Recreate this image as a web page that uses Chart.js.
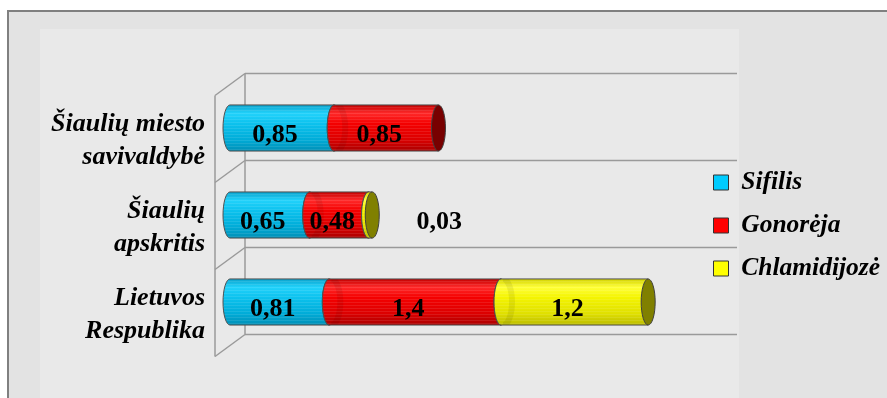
<!DOCTYPE html>
<html>
<head>
<meta charset="utf-8">
<script src="https://cdn.jsdelivr.net/npm/chart.js@4.4.0/dist/chart.umd.min.js"></script>
<style>
  html, body { margin: 0; padding: 0; background: #fff; }
  canvas { display: block; }
</style>
</head>
<body>
<canvas id="lytChart" width="887" height="398"></canvas>
<script>
// sergamumas 10 000 gyventoju
const categories = [['Šiaulių miesto', 'savivaldybė'], ['Šiaulių', 'apskritis'], ['Lietuvos', 'Respublika']];
const seriesNames = ['Sifilis', 'Gonorėja', 'Chlamidijozė'];
const sifilis = [0.85, 0.65, 0.81];
const gonoreja = [0.85, 0.48, 1.4];
const chlamidijoze = [null, 0.03, 1.2];

const serif = '"Liberation Serif", "Times New Roman", serif';

// cylinder colours: gradient stops top -> bottom, end cap, legend swatch
const palette = [
  { stops: ['#0aa2cc', '#22d2fb', '#0cc2ee', '#00acd8', '#008fb6'], cap: '#00708f', flat: '#00c0ee', swatch: '#00ccff' },
  { stops: ['#c20000', '#ff2a2a', '#f40000', '#dc0000', '#aa0000'], cap: '#780000', flat: '#ee0000', swatch: '#ff0000' },
  { stops: ['#d2d200', '#ffff3a', '#f4f400', '#e0e000', '#bcbc00'], cap: '#808000', flat: '#f0f000', swatch: '#ffff00' }
];

const bodyGradient = (ctx, pal, top, bot) => {
  const g = ctx.createLinearGradient(0, top, 0, bot);
  [0, 0.18, 0.4, 0.75, 1].forEach((p, k) => g.addColorStop(p, pal.stops[k]));
  return g;
};

// page frame and the lighter plot panel
const backdrop = {
  id: 'backdrop',
  beforeDraw(chart) {
    const ctx = chart.ctx;
    ctx.save();
    ctx.fillStyle = '#ffffff';
    ctx.fillRect(0, 0, chart.width, chart.height);
    ctx.fillStyle = '#e3e3e3';
    ctx.fillRect(8, 11, chart.width, chart.height);
    ctx.strokeStyle = '#808080';
    ctx.lineWidth = 2;
    ctx.beginPath();
    ctx.moveTo(8, chart.height);
    ctx.lineTo(8, 11);
    ctx.lineTo(chart.width, 11);
    ctx.stroke();
    ctx.fillStyle = '#e9e9e9';
    ctx.fillRect(40, 29, 699, chart.height);
    ctx.restore();
  }
};

// 3D walls: back wall lines at the category borders, side wall diagonals
const walls = {
  id: 'walls',
  beforeDatasetsDraw(chart) {
    const { ctx, chartArea: a, scales: { y } } = chart;
    const step = (a.bottom - a.top) / categories.length;
    const dx = 15, dy = 11;
    const backRight = a.right + 41;
    ctx.save();
    ctx.lineWidth = 1.5;
    ctx.strokeStyle = '#9a9a9a';
    const borders = [];
    for (let i = 0; i < categories.length; i++) borders.push(y.getPixelForValue(i) - step / 2);
    borders.push(y.getPixelForValue(categories.length - 1) + step / 2);
    borders.forEach(b => {
      ctx.beginPath();
      ctx.moveTo(a.left + dx, b - dy);
      ctx.lineTo(backRight, b - dy);
      ctx.stroke();
      ctx.beginPath();
      ctx.moveTo(a.left + dx, b - dy);
      ctx.lineTo(a.left - dx, b + dy);
      ctx.stroke();
    });
    ctx.beginPath();
    ctx.moveTo(a.left + dx, borders[0] - dy);
    ctx.lineTo(a.left + dx, borders[borders.length - 1] - dy);
    ctx.moveTo(a.left - dx, borders[0] + dy);
    ctx.lineTo(a.left - dx, borders[borders.length - 1] + dy);
    ctx.stroke();
    ctx.restore();
  }
};

// outline of a segment: flat top/bottom, rounded left end
const bodyPath = (ctx, x, y, base, rx, ry) => {
  ctx.beginPath();
  ctx.moveTo(x, y - ry);
  ctx.lineTo(base, y - ry);
  ctx.ellipse(base, y, rx, ry, 0, -Math.PI / 2, Math.PI / 2, true);
  ctx.lineTo(x, y + ry);
};

// repaints each stacked segment as a cylinder, first series first,
// so every segment's rounded left end covers the cap of the one before
const cylinders = {
  id: 'cylinders',
  afterDatasetsDraw(chart) {
    const ctx = chart.ctx;
    const left = chart.chartArea.left;
    chart.data.datasets.forEach((ds, i) => {
      const pal = palette[i];
      chart.getDatasetMeta(i).data.forEach((bar, j) => {
        if (ds.data[j] == null) return;
        const { x, y, base, height } = bar.getProps(['x', 'y', 'base', 'height'], true);
        const top = y - height / 2, bot = y + height / 2;
        const rx = 7, ry = height / 2;
        ctx.save();
        bodyPath(ctx, x, y, base, rx, ry);
        ctx.closePath();
        ctx.fillStyle = bodyGradient(ctx, pal, top, bot);
        ctx.fill();
        // fine horizontal streaks
        ctx.save();
        ctx.clip();
        ctx.lineWidth = 1;
        ctx.strokeStyle = 'rgba(255,255,255,0.10)';
        for (let s = top + 2; s < bot; s += 3) {
          ctx.beginPath();
          ctx.moveTo(base - rx, s + 0.5);
          ctx.lineTo(x, s + 0.5);
          ctx.stroke();
        }
        // soft shading where a segment sits against the previous one
        if (base > left + 1) {
          ctx.beginPath();
          ctx.ellipse(base + 2, y, rx + 2, ry, 0, -Math.PI / 2, Math.PI / 2);
          ctx.strokeStyle = 'rgba(0,0,0,0.07)';
          ctx.lineWidth = 6;
          ctx.stroke();
        }
        ctx.restore();
        bodyPath(ctx, x, y, base, rx, ry);
        ctx.strokeStyle = '#505050';
        ctx.lineWidth = 1;
        ctx.stroke();
        // end face
        ctx.beginPath();
        ctx.ellipse(x, y, rx, ry, 0, 0, Math.PI * 2);
        ctx.fillStyle = pal.cap;
        ctx.fill();
        ctx.strokeStyle = '#404040';
        ctx.stroke();
        ctx.restore();
      });
    });
  }
};

// value labels, decimal comma
const valueLabels = {
  id: 'valueLabels',
  afterDatasetsDraw(chart) {
    const ctx = chart.ctx;
    ctx.save();
    ctx.font = 'bold 26px ' + serif;
    ctx.fillStyle = '#000';
    ctx.textAlign = 'center';
    ctx.textBaseline = 'alphabetic';
    chart.data.datasets.forEach((ds, i) => {
      chart.getDatasetMeta(i).data.forEach((bar, j) => {
        const v = ds.data[j];
        if (v == null) return;
        const { x, y, base } = bar.getProps(['x', 'y', 'base'], true);
        const tx = (x - base) < 20 ? x + 67 : (x + base) / 2 - 7;
        ctx.fillText(String(v).replace('.', ','), tx, y + 14);
      });
    });
    ctx.restore();
  }
};

const seriesData = [sifilis, gonoreja, chlamidijoze];

new Chart(document.getElementById('lytChart'), {
  type: 'bar',
  data: {
    labels: categories,
    datasets: seriesData.map((d, i) => ({
      label: seriesNames[i],
      data: d,
      backgroundColor: palette[i].flat,
      borderWidth: 0,
      categoryPercentage: 0.53,
      barPercentage: 1
    }))
  },
  options: {
    indexAxis: 'y',
    responsive: false,
    animation: false,
    layout: { padding: { top: 84.5, bottom: 31.5, left: 0, right: 0 } },
    scales: {
      x: {
        stacked: true,
        min: 0,
        max: 3.8,
        grid: { display: false },
        border: { display: false },
        ticks: { display: false },
        afterFit(scale) { scale.height = 21; }
      },
      y: {
        stacked: true,
        grid: { display: false },
        border: { display: false },
        ticks: {
          color: '#000',
          padding: 17,
          labelOffset: 13,
          font: { family: serif, size: 26, weight: 'bold', style: 'italic', lineHeight: 1.27 }
        },
        afterFit(scale) { scale.width = 230; }
      }
    },
    plugins: {
      tooltip: { enabled: false },
      legend: {
        position: 'right',
        maxWidth: 191,
        labels: {
          color: '#000',
          boxWidth: 15,
          boxHeight: 15,
          padding: 17.5,
          font: { family: serif, size: 25.5, weight: 'bold', style: 'italic' },
          generateLabels(chart) {
            return Chart.defaults.plugins.legend.labels.generateLabels(chart).map(item =>
              Object.assign(item, { fillStyle: palette[item.datasetIndex].swatch, strokeStyle: '#333', lineWidth: 1 }));
          }
        }
      }
    }
  },
  plugins: [backdrop, walls, cylinders, valueLabels]
});
</script>
</body>
</html>
